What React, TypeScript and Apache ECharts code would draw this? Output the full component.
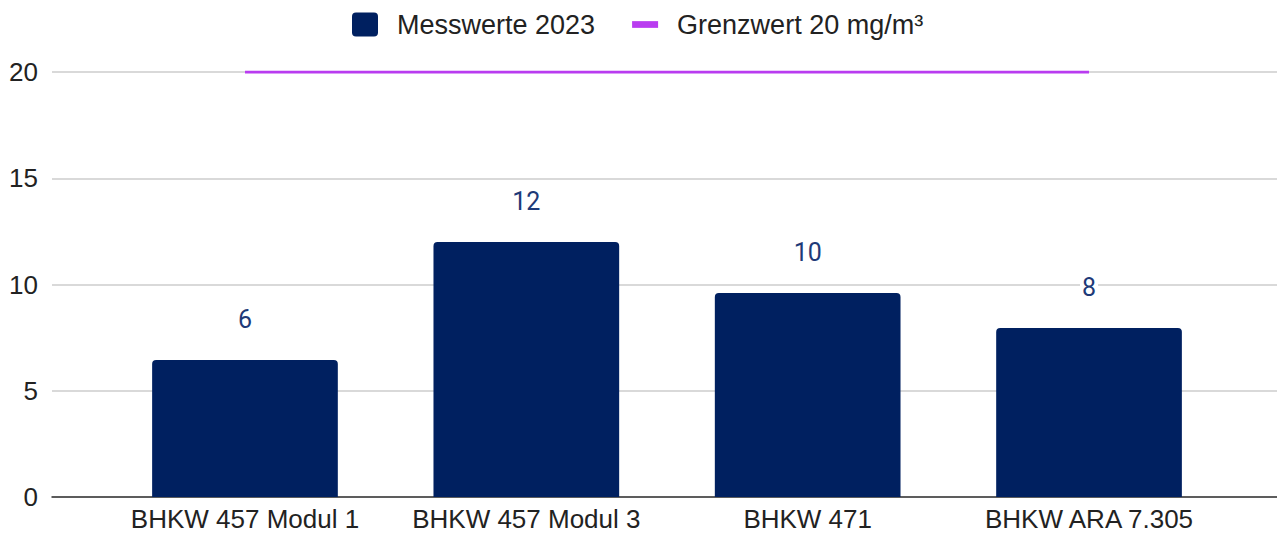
import React, { useEffect, useRef } from "react";
import * as echarts from "echarts";

const categories = ["BHKW 457 Modul 1", "BHKW 457 Modul 3", "BHKW 471", "BHKW ARA 7.305"];
const messwerte = [6.45, 12.0, 9.6, 7.95];
const grenzwert = [20, 20, 20, 20];
const yTicks = { min: 0, max: 20, interval: 5 };
const seriesNames = ["Messwerte 2023", "Grenzwert 20 mg/m³"];

const FONT = 'Arial, "Liberation Sans", sans-serif';
const TEXT = "#222222";
const NAVY = "#002060";
const PURPLE = "#b93cf0";

export default function App() {
  const ref = useRef<HTMLDivElement>(null);
  useEffect(() => {
    if (!ref.current) return;
    const chart = echarts.init(ref.current, undefined, { renderer: "svg" });
    chart.setOption({
      animation: false,
      backgroundColor: "#ffffff",
      legend: {
        left: 352,
        top: 11,
        padding: 0,
        itemWidth: 26,
        itemHeight: 24,
        itemGap: 37,
        textStyle: { fontFamily: FONT, fontSize: 27, color: TEXT, padding: [0, 0, 0, 14] },
        data: [
          {
            name: seriesNames[0],
            icon: "path://M4 0H22Q26 0 26 4V20Q26 24 22 24H4Q0 24 0 20V4Q0 0 4 0Z",
          },
          { name: seriesNames[1], icon: "path://M0 0H27V7H0Z" },
        ],
      },
      grid: [
        { left: 52, right: 0, top: 72, bottom: 36 },
        { left: 104.3, right: 47.3, top: 72, bottom: 36 },
      ],
      xAxis: [
        {
          gridIndex: 0,
          type: "value",
          min: 0,
          max: 1,
          axisLine: { show: true, onZero: false, lineStyle: { color: "#333333", width: 1.5 } },
          axisTick: { show: false },
          axisLabel: { show: false },
          splitLine: { show: false },
        },
        {
          gridIndex: 1,
          type: "category",
          data: categories,
          axisLine: { show: false },
          axisTick: { show: false },
          axisLabel: { interval: 0, fontFamily: FONT, fontSize: 26, color: TEXT, margin: 9 },
        },
      ],
      yAxis: [
        {
          gridIndex: 0,
          type: "value",
          min: yTicks.min,
          max: yTicks.max,
          interval: yTicks.interval,
          axisLine: { show: false },
          axisTick: { show: false },
          axisLabel: { fontFamily: FONT, fontSize: 26, color: TEXT, margin: 14 },
          splitLine: { lineStyle: { color: "#cccccc", width: 1.5 } },
        },
        {
          gridIndex: 1,
          type: "value",
          min: yTicks.min,
          max: yTicks.max,
          interval: yTicks.interval,
          show: false,
          splitLine: { show: false },
        },
      ],
      series: [
        {
          name: seriesNames[0],
          type: "bar",
          xAxisIndex: 1,
          yAxisIndex: 1,
          data: messwerte,
          barWidth: "66%",
          itemStyle: { color: NAVY, borderRadius: [4, 4, 0, 0] },
          label: {
            show: true,
            position: "top",
            distance: 28,
            fontFamily: "Roboto, sans-serif",
            fontSize: 25,
            color: "#1e3a78",
            backgroundColor: "#ffffff",
            padding: [0, 2],
            formatter: (p: any) => String(Math.round(p.value)),
          },
          z: 3,
        },
        {
          name: seriesNames[1],
          type: "line",
          xAxisIndex: 1,
          yAxisIndex: 1,
          data: grenzwert,
          symbol: "none",
          lineStyle: { color: PURPLE, width: 3 },
          itemStyle: { color: PURPLE },
          z: 4,
        },
      ],
    });
    return () => chart.dispose();
  }, []);
  return (
    <div
      ref={ref}
      style={{ position: "fixed", left: 0, top: 0, width: 1277, height: 533, background: "#fff" }}
    />
  );
}
